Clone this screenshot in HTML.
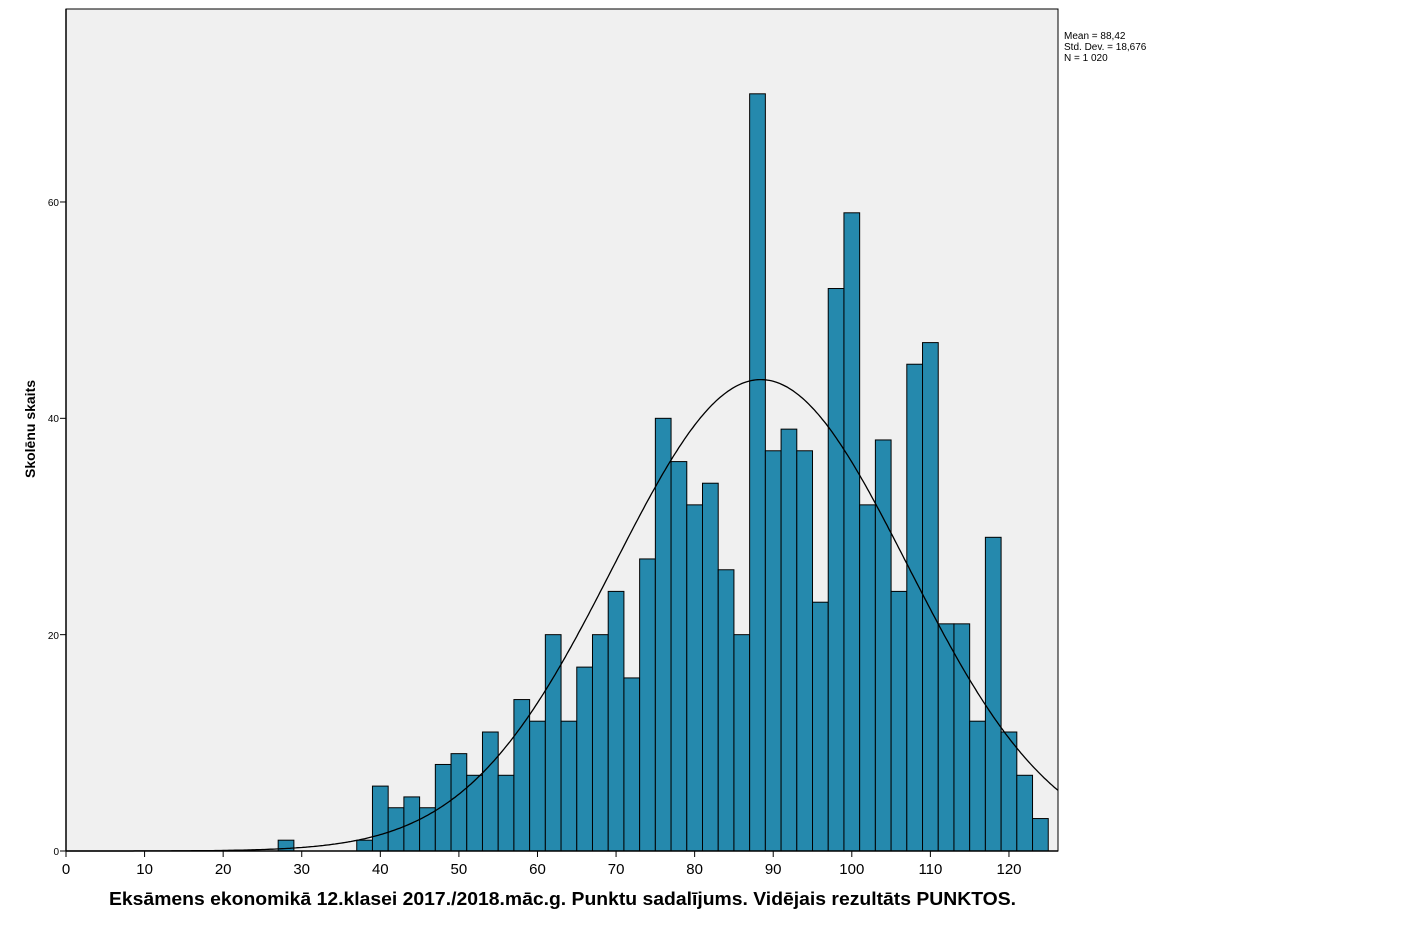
<!DOCTYPE html>
<html><head><meta charset="utf-8"><style>
body{margin:0;background:#fff;width:1411px;height:926px;overflow:hidden}
svg text{font-family:"Liberation Sans",Arial,sans-serif}
</style></head><body>
<svg id="s" width="1411" height="926" xmlns="http://www.w3.org/2000/svg">
<rect x="66" y="9" width="992" height="842" fill="#f0f0f0" stroke="#000" stroke-width="1"/>
<g id="bars"></g>
<path id="curve" fill="none" stroke="#000" stroke-width="1.3"/>
<line x1="66" y1="9" x2="66" y2="851" stroke="#000" stroke-width="1.5"/>
<line x1="66" y1="851" x2="1058" y2="851" stroke="#000" stroke-width="1.5"/>
<g id="ticks" stroke="#000" stroke-width="1"></g>
<g font-size="10" text-anchor="end">
<text x="59" y="855">0</text><text x="59" y="639">20</text><text x="59" y="422">40</text><text x="59" y="206">60</text>
</g>
<g font-size="15" text-anchor="middle">
<text x="66" y="874">0</text><text x="144.6" y="874">10</text><text x="223.2" y="874">20</text><text x="301.7" y="874">30</text><text x="380.3" y="874">40</text><text x="458.9" y="874">50</text><text x="537.5" y="874">60</text><text x="616.1" y="874">70</text><text x="694.6" y="874">80</text><text x="773.2" y="874">90</text><text x="851.8" y="874">100</text><text x="930.4" y="874">110</text><text x="1009" y="874">120</text>
</g>
<text x="109" y="905" font-size="18" font-weight="bold" textLength="907" lengthAdjust="spacingAndGlyphs">Eksāmens ekonomikā 12.klasei 2017./2018.māc.g. Punktu sadalījums. Vidējais rezultāts PUNKTOS.</text>
<text transform="translate(35,429) rotate(-90)" font-size="14" font-weight="bold" text-anchor="middle">Skolēnu skaits</text>
<g font-size="10"><text x="1064" y="39">Mean = 88,42</text><text x="1064" y="50">Std. Dev. = 18,676</text><text x="1064" y="61">N = 1 020</text></g>
</svg>
<script>
var X=function(v){return 66+v*7.858},Y=function(c){return 851-c*10.817};
var d={28:1,38:1,40:6,42:4,44:5,46:4,48:8,50:9,52:7,54:11,56:7,58:14,60:12,62:20,64:12,66:17,68:20,70:24,72:16,74:27,76:40,78:36,80:32,82:34,84:26,86:20,88:70,90:37,92:39,94:37,96:23,98:52,100:59,102:32,104:38,106:24,108:45,110:47,112:21,114:21,116:12,118:29,120:11,122:7,124:3};
var g='';for(var k in d){var x0=X(k-1),x1=X(+k+1);g+='<rect x="'+x0+'" y="'+Y(d[k])+'" width="'+(x1-x0)+'" height="'+(d[k]*10.817)+'" fill="#2589ad" stroke="#000" stroke-width="1"/>';}
document.getElementById('bars').innerHTML=g;
var p='';for(var v=0;v<=126.25;v+=0.25){var c=43.58*Math.exp(-Math.pow(v-88.42,2)/(2*18.676*18.676));p+=(v?'L':'M')+X(v).toFixed(1)+' '+Y(c).toFixed(1);}
document.getElementById('curve').setAttribute('d',p);
var t='';for(var i=0;i<=120;i+=10)t+='<line x1="'+X(i)+'" y1="851" x2="'+X(i)+'" y2="857"/>';
for(var j=0;j<=60;j+=20)t+='<line x1="60" y1="'+Y(j)+'" x2="66" y2="'+Y(j)+'"/>';
document.getElementById('ticks').innerHTML=t;
</script>
</body></html>
